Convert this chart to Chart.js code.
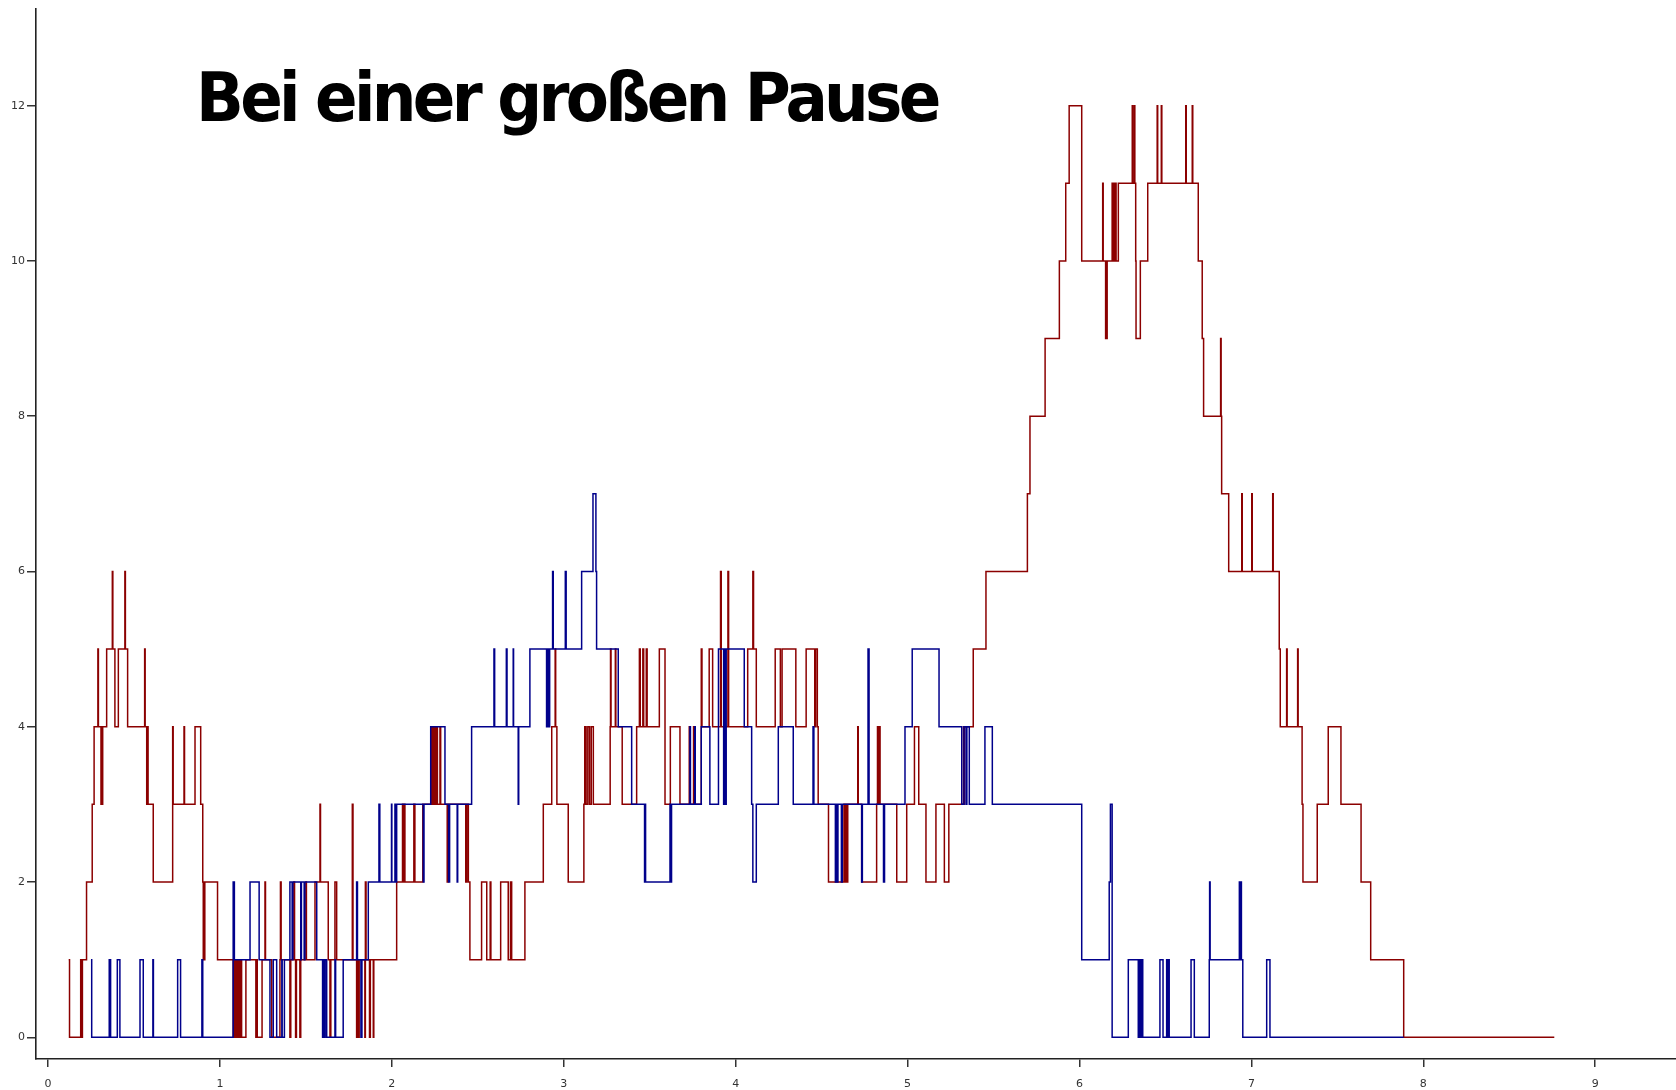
<!DOCTYPE html>
<html>
<head>
<meta charset="utf-8">
<script src="https://cdn.jsdelivr.net/npm/chart.js@4.4.1/dist/chart.umd.min.js"></script>
<style>
  html, body { margin: 0; padding: 0; background: #fff; }
  #wrap { width: 1676px; height: 1090px; }
</style>
</head>
<body>
<div id="wrap"><canvas id="chart" width="1676" height="1090"></canvas></div>
<script>
const titleText = 'Bei einer großen Pause';
const xTicks = [0, 1, 2, 3, 4, 5, 6, 7, 8, 9];
const yTicks = [0, 2, 4, 6, 8, 10, 12];

// red series: x where the count changes, and the new count
const redX = [
  0.12, 0.125, 0.19, 0.196, 0.2, 0.224, 0.257, 0.268, 0.29, 0.293, 0.308, 0.311, 0.314, 0.318, 0.341, 0.374, 0.377, 0.389, 0.409, 0.447, 0.45, 0.463, 0.562, 0.565, 0.574, 0.578, 0.582, 0.612, 0.725, 0.728, 0.791, 0.794, 0.855, 0.888, 0.9, 0.903, 0.906, 0.909, 0.912, 0.986,
  1.077, 1.082, 1.088, 1.095, 1.1, 1.108, 1.114, 1.12, 1.126, 1.151, 1.209, 1.213, 1.217, 1.245, 1.262, 1.265, 1.301, 1.349, 1.352, 1.356, 1.407, 1.412, 1.43, 1.434, 1.44, 1.445, 1.465, 1.47, 1.5, 1.503, 1.553, 1.582, 1.585, 1.63, 1.64, 1.645, 1.669, 1.679, 1.77, 1.774, 1.795, 1.8, 1.805, 1.81, 1.843, 1.846, 1.85, 1.87, 1.875, 1.892, 1.895,
  2.028, 2.062, 2.066, 2.07, 2.076, 2.128, 2.134, 2.18, 2.23, 2.236, 2.242, 2.25, 2.258, 2.265, 2.28, 2.284, 2.322, 2.326, 2.43, 2.436, 2.445, 2.454, 2.522, 2.552, 2.572, 2.576, 2.633, 2.677, 2.69, 2.697, 2.774, 2.881, 2.93, 2.95, 2.953, 2.96,
  3.026, 3.117, 3.122, 3.13, 3.14, 3.15, 3.16, 3.172, 3.27, 3.272, 3.275, 3.3, 3.303, 3.34, 3.424, 3.44, 3.445, 3.46, 3.465, 3.48, 3.485, 3.556, 3.589, 3.62, 3.676, 3.73, 3.734, 3.755, 3.762, 3.8, 3.804, 3.846, 3.866, 3.912, 3.916, 3.955, 3.959,
  4.07, 4.1, 4.104, 4.12, 4.23, 4.26, 4.27, 4.35, 4.41, 4.46, 4.465, 4.475, 4.48, 4.54, 4.63, 4.635, 4.64, 4.645, 4.652, 4.71, 4.713, 4.733, 4.82, 4.825, 4.83, 4.836, 4.84, 4.937, 4.995,
  5.04, 5.065, 5.107, 5.165, 5.214, 5.24, 5.325, 5.328, 5.331, 5.382, 5.456, 5.697, 5.712, 5.8, 5.883, 5.92, 5.94,
  6.013, 6.135, 6.138, 6.152, 6.155, 6.158, 6.161, 6.19, 6.196, 6.2, 6.205, 6.21, 6.213, 6.226, 6.307, 6.31, 6.319, 6.322, 6.327, 6.329, 6.354, 6.397, 6.452, 6.455, 6.476, 6.479, 6.618, 6.621, 6.656, 6.659, 6.691, 6.714, 6.722, 6.821, 6.824, 6.827, 6.868, 6.944, 6.947,
  7.002, 7.005, 7.124, 7.127, 7.162, 7.168, 7.205, 7.208, 7.269, 7.272, 7.295, 7.3, 7.383, 7.447, 7.521, 7.638, 7.694, 7.886, 8.762
];
const redY = [
  1, 0, 1, 0, 1, 2, 3, 4, 5, 4, 3, 4, 3, 4, 5, 6, 5, 4, 5, 6, 5, 4, 5, 4, 3, 4, 3, 2, 4, 3, 4, 3, 4, 3, 2, 1, 2, 1, 2, 1,
  0, 1, 0, 1, 0, 1, 0, 1, 0, 1, 0, 1, 0, 1, 2, 1, 0, 1, 2, 1, 0, 1, 2, 1, 0, 1, 0, 1, 2, 1, 2, 3, 2, 1, 0, 1, 2, 1, 3, 1, 0, 1, 0, 1, 0, 2, 1, 0, 1, 0, 1,
  2, 3, 2, 3, 2, 3, 2, 3, 4, 3, 4, 3, 4, 3, 4, 3, 2, 3, 2, 3, 2, 1, 2, 1, 2, 1, 2, 1, 2, 1, 2, 3, 4, 5, 4, 3,
  2, 3, 4, 3, 4, 3, 4, 3, 4, 5, 4, 5, 4, 3, 4, 5, 4, 5, 4, 5, 4, 5, 3, 4, 3, 4, 3, 4, 3, 5, 4, 5, 4, 6, 4, 6, 4,
  5, 6, 5, 4, 5, 4, 5, 4, 5, 4, 5, 4, 3, 2, 3, 2, 3, 2, 3, 4, 3, 2, 3, 4, 3, 4, 3, 2, 3,
  4, 3, 2, 3, 2, 3, 4, 3, 4, 5, 6, 7, 8, 9, 10, 11, 12,
  10, 11, 10, 9, 10, 9, 10, 11, 10, 11, 10, 11, 10, 11, 12, 11, 12, 11, 10, 9, 10, 11, 12, 11, 12, 11, 12, 11, 12, 11, 10, 9, 8, 9, 8, 7, 6, 7, 6,
  7, 6, 7, 6, 5, 4, 5, 4, 5, 4, 3, 2, 3, 4, 3, 2, 1, 0, 0
];

// blue series
const blueX = [
  0.25, 0.254, 0.356, 0.359, 0.361, 0.364, 0.403, 0.418, 0.535, 0.554, 0.61, 0.613, 0.754, 0.771, 0.895, 0.9,
  1.077, 1.084, 1.175, 1.228, 1.291, 1.31, 1.33, 1.36, 1.362, 1.375, 1.407, 1.42, 1.424, 1.47, 1.474, 1.49, 1.494, 1.563, 1.597, 1.6, 1.605, 1.612, 1.621, 1.669, 1.673, 1.717, 1.795, 1.8, 1.82, 1.826, 1.863, 1.925, 1.93, 1.998,
  2.0, 2.018, 2.022, 2.028, 2.183, 2.187, 2.226, 2.309, 2.33, 2.336, 2.38, 2.383, 2.464, 2.594, 2.598, 2.666, 2.67, 2.706, 2.708, 2.735, 2.738, 2.803, 2.9, 2.906, 2.912, 2.918, 2.935, 2.939,
  3.009, 3.014, 3.104, 3.17, 3.187, 3.191, 3.317, 3.395, 3.47, 3.473, 3.476, 3.618, 3.622, 3.627, 3.734, 3.737, 3.762, 3.765, 3.8, 3.85, 3.9, 3.93, 3.935, 3.94, 3.945,
  4.05, 4.093, 4.1, 4.12, 4.248, 4.335, 4.45, 4.455, 4.58, 4.585, 4.59, 4.595, 4.615, 4.62, 4.733, 4.737, 4.77, 4.776, 4.86, 4.866, 4.985,
  5.027, 5.183, 5.315, 5.328, 5.34, 5.345, 5.359, 5.45, 5.493,
  6.013, 6.173, 6.18, 6.19, 6.284, 6.342, 6.35, 6.355, 6.362, 6.368, 6.468, 6.486, 6.507, 6.512, 6.517, 6.522, 6.649, 6.668, 6.755, 6.757, 6.76, 6.93, 6.935, 6.938, 6.942, 6.95,
  7.089, 7.108, 7.886
];
const blueY = [
  1, 0, 1, 0, 1, 0, 1, 0, 1, 0, 1, 0, 1, 0, 1, 0,
  2, 1, 2, 1, 0, 1, 0, 1, 0, 1, 2, 1, 2, 1, 2, 1, 2, 1, 0, 1, 0, 1, 0, 1, 0, 1, 2, 1, 0, 1, 2, 3, 2, 3,
  2, 3, 2, 3, 2, 3, 4, 3, 2, 3, 2, 3, 4, 5, 4, 5, 4, 5, 4, 3, 4, 5, 4, 5, 4, 5, 6, 5,
  6, 5, 6, 7, 6, 5, 4, 3, 2, 3, 2, 3, 2, 3, 4, 3, 4, 3, 4, 3, 5, 3, 5, 3, 5,
  4, 3, 2, 3, 4, 3, 4, 3, 2, 3, 2, 3, 2, 3, 2, 3, 5, 3, 2, 3, 4,
  5, 4, 3, 4, 3, 4, 3, 4, 3,
  1, 2, 3, 0, 1, 0, 1, 0, 1, 0, 1, 0, 1, 0, 1, 0, 1, 0, 1, 2, 1, 2, 1, 2, 1, 0,
  1, 0, 0
];

const toPoints = (xs, ys) => xs.map((x, i) => ({ x: x, y: ys[i] }));

// big heading sits inside the plot, left of the red peak
const titlePlugin = {
    id: 'bigTitle',
    afterDraw(chart) {
        const ctx = chart.ctx;
        ctx.save();
        ctx.font = 'bold 68px "DejaVu Sans"';
        if ('letterSpacing' in ctx) ctx.letterSpacing = '-4px';
        const m = ctx.measureText(titleText);
        const inkW = m.actualBoundingBoxLeft + m.actualBoundingBoxRight;
        const sx = 737 / inkW;
        ctx.translate(201.5, 121);
        ctx.scale(sx, 1);
        ctx.fillStyle = '#000';
        ctx.textBaseline = 'alphabetic';
        ctx.textAlign = 'left';
        ctx.fillText(titleText, m.actualBoundingBoxLeft, 0);
        ctx.restore();
    }
};

const tickFont = { family: '"DejaVu Sans", Verdana, sans-serif', size: 11 };

const ctx = document.getElementById('chart').getContext('2d');
new Chart(ctx, {
    type: 'line',
    data: {
        datasets: [
            {
                label: 'blau',
                data: toPoints(blueX, blueY),
                borderColor: '#00008b',
                borderWidth: 1.5,
                stepped: 'before',
                pointRadius: 0,
                fill: false,
                tension: 0
            },
            {
                label: 'rot',
                data: toPoints(redX, redY),
                borderColor: '#8b0000',
                borderWidth: 1.5,
                stepped: 'before',
                pointRadius: 0,
                fill: false,
                tension: 0
            }
        ]
    },
    options: {
        responsive: false,
        animation: false,
        layout: { padding: { top: 3, right: 0, bottom: 0, left: 0 } },
        plugins: {
            legend: { display: false },
            tooltip: { enabled: false },
            title: { display: false }
        },
        scales: {
            x: {
                type: 'linear',
                min: -0.07,
                max: 9.47,
                afterBuildTicks: (scale) => { scale.ticks = xTicks.map(v => ({ value: v })); },
                afterFit: (scale) => { scale.height = 31; },
                grid: { display: true, drawOnChartArea: false, drawTicks: true, tickLength: 8, color: '#333', lineWidth: 1.5 },
                border: { display: true, color: '#222', width: 1.6 },
                ticks: { color: '#333', font: tickFont, padding: 11, maxRotation: 0, autoSkip: false }
            },
            y: {
                type: 'linear',
                min: -0.28,
                max: 13.25,
                afterBuildTicks: (scale) => { scale.ticks = yTicks.map(v => ({ value: v })); },
                afterFit: (scale) => { scale.width = 36; },
                grid: { display: true, drawOnChartArea: false, drawTicks: true, tickLength: 9, color: '#333', lineWidth: 1.5 },
                border: { display: true, color: '#222', width: 1.6 },
                ticks: { color: '#333', font: tickFont, padding: 2, autoSkip: false }
            }
        }
    },
    plugins: [titlePlugin]
});
</script>
</body>
</html>
